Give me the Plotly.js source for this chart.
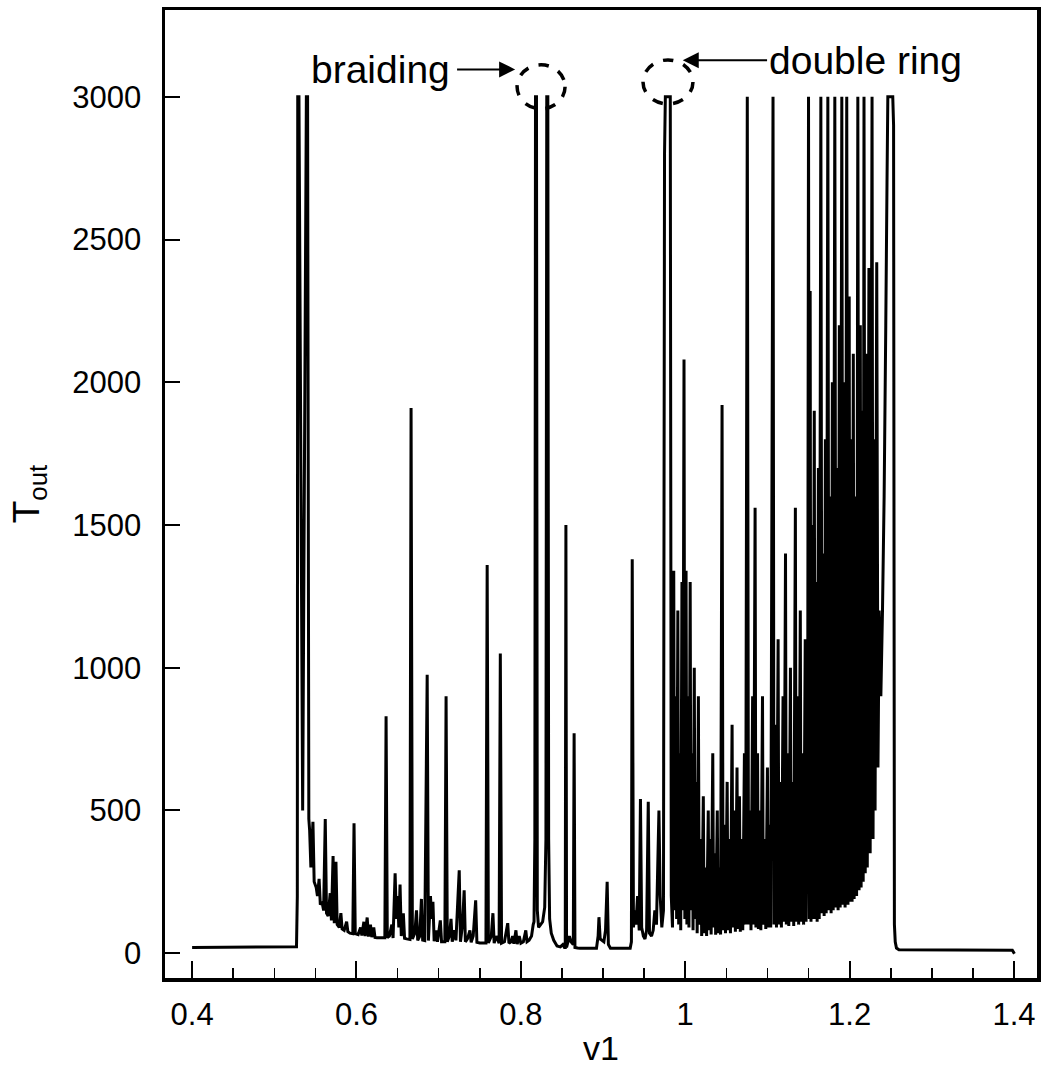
<!DOCTYPE html>
<html>
<head>
<meta charset="utf-8">
<script src="https://cdn.plot.ly/plotly-3.0.1.min.js"></script>
<style>html,body{margin:0;padding:0;background:#fff;}#chart{width:1043px;height:1079px;}</style>
</head>
<body>
<div id="chart"></div>
<script>
// ---- data (v1 vs T_out) ----
const v1Onset   = [0.400, 0.5270, 0.5280, 0.5285, 0.5300, 0.5345, 0.5390, 0.5405, 0.5420];
const toutOnset = [20, 22, 200, 3000, 3000, 500, 3000, 3000, 470];

const v1Low = [0.5430,0.5445,0.5470,0.5485,0.5510,0.5525,0.5545,0.5560,0.5580,0.5600,
0.5620,0.5635,0.5655,0.5680,0.5695,0.5715,0.5730,0.5750,0.5765,0.5790,
0.5810,0.5825,0.5850,0.5880,0.5895,0.5920,0.5955,0.5970,0.5985,0.6020,
0.6050,0.6065,0.6090,0.6105,0.6130,0.6145,0.6170,0.6185,0.6210,0.6225,
0.6250,0.6300,0.6345,0.6360,0.6375,0.6400,0.6430,0.6445,0.6470,0.6485,
0.6500,0.6515,0.6530,0.6545,0.6570,0.6585,0.6610,0.6650,0.6664,0.6680,
0.6710,0.6730,0.6745,0.6770,0.6790,0.6805,0.6830,0.6860,0.6875,0.6900,
0.6915,0.6930,0.6945,0.6970,0.6985,0.7020,0.7035,0.7075,0.7090,0.7105,
0.7130,0.7150,0.7165,0.7190,0.7210,0.7250,0.7265,0.7290,0.7310,0.7325,
0.7350,0.7380,0.7395,0.7420,0.7450,0.7465,0.7500,0.7575,0.7590,0.7605,
0.7640,0.7660,0.7675,0.7700,0.7735,0.7750,0.7765,0.7800,0.7840,0.7855,
0.7880,0.7900,0.7915,0.7940,0.7955,0.7980,0.8000,0.8030,0.8060,0.8075,
0.8100,0.8130,0.8150];
const toutLow = [430,300,460,250,230,200,260,170,180,150,
470,140,130,210,115,340,105,320,100,90,
140,85,80,110,75,70,68,455,68,65,
90,62,110,60,125,58,100,56,90,55,
54,54,54,830,55,60,100,53,280,120,
200,90,240,60,140,52,50,48,1910,50,
70,150,45,60,190,46,44,975,44,200,
120,180,42,80,40,115,40,40,900,40,
60,120,40,80,45,290,40,100,220,40,
50,80,38,60,185,38,36,36,1360,36,
60,140,35,60,35,1050,35,40,105,35,
40,60,33,80,32,60,35,40,80,40,
45,60,100];

const v1Braid = [0.8160,0.8170,0.8178,0.8190,0.8200,0.8215,0.8240,0.8265,0.8290,0.8305,
0.8315,0.8328,0.8338,0.8350,0.8370,0.8400,0.8440,0.8480,0.8510,0.8530,
0.8540,0.8548,0.8556,0.8590,0.8610,0.8638,0.8648,0.8658,0.8690,0.8720,
0.8920,0.8940,0.8950,0.8965,0.9010,0.9030,0.9050,0.9065,0.9090,0.9330];
const toutBraid = [110,400,3000,3000,150,90,100,110,160,400,
3000,3000,400,120,70,45,25,22,30,20,
20,1500,20,60,40,30,770,20,18,17,
17,60,126,50,40,80,250,30,17,17];

const v1Mid = [0.9345,0.9355,0.9370,0.9390,0.9400,0.9420,0.9440,0.9455,0.9470,0.9490,
0.9510,0.9530,0.9550,0.9565,0.9590,0.9610,0.9630,0.9650,0.9680,0.9695,
0.9715,0.9735,0.9748,0.9758,0.9818,0.9830];
const toutMid = [40,1380,90,150,100,200,80,540,90,60,
50,80,530,70,60,80,150,100,500,200,
90,150,2800,3000,3000,200];

const v1Dense = [0.9845,0.9860,0.9870,0.9885,0.9895,0.9910,0.9920,0.9935,0.9945,0.9960,
0.9970,0.9985,0.9995,1.0010,1.0020,1.0035,1.0045,1.0060,1.0070,1.0085,
1.0095,1.0110,1.0120,1.0135,1.0145,1.0160,1.0170,1.0190,1.0200,1.0220,
1.0230,1.0250,1.0260,1.0280,1.0290,1.0305,1.0315,1.0335,1.0345,1.0360,
1.0370,1.0390,1.0400,1.0420,1.0430,1.0448,1.0460,1.0480,1.0490,1.0510,
1.0520,1.0540,1.0550,1.0570,1.0580,1.0600,1.0610,1.0630,1.0640,1.0660,
1.0670,1.0690,1.0700,1.0720,1.0735,1.0755,1.0770,1.0790,1.0800,1.0820,
1.0830,1.0850,1.0860,1.0880,1.0890,1.0910,1.0920,1.0940,1.0950,1.0970,
1.0980,1.1000,1.1010,1.1030,1.1040,1.1068,1.1080,1.1100,1.1110,1.1130,
1.1140,1.1160,1.1170,1.1190,1.1200,1.1220,1.1230,1.1250,1.1260,1.1280,
1.1290,1.1310,1.1320,1.1340,1.1350,1.1370,1.1380,1.1400,1.1410,1.1430,
1.1440,1.1460,1.1470,1.1490,1.1500,1.1510,1.1520,1.1530,1.1545,1.1555,
1.1570,1.1580,1.1595,1.1605,1.1620,1.1630,1.1650,1.1665,1.1680,1.1690,
1.1705,1.1715,1.1735,1.1750,1.1765,1.1775,1.1790,1.1800,1.1820,1.1835,
1.1850,1.1860,1.1875,1.1885,1.1905,1.1920,1.1935,1.1945,1.1965,1.1980,
1.1995,1.2005,1.2020,1.2030,1.2045,1.2055,1.2075,1.2085,1.2100,1.2115,
1.2130,1.2140,1.2155,1.2165,1.2175,1.2190,1.2205,1.2215,1.2235,1.2250,
1.2273,1.2285,1.2300,1.2310,1.2330,1.2345,1.2360,1.2380,1.2400,1.2420,
1.2440,1.2455,1.2465,1.2475,1.2525,1.2535,1.2545];
const toutDense = [90,1340,150,900,120,1200,100,700,80,1300,
150,2080,120,1340,100,900,90,1300,150,700,
80,1000,120,600,70,900,100,400,60,550,
70,300,60,500,80,400,65,700,90,350,
65,500,70,300,65,1920,80,450,70,600,
80,400,70,800,90,500,75,650,85,550,
75,400,80,700,100,3000,100,500,80,900,
100,1560,90,700,85,500,80,900,100,400,
85,650,90,450,90,3000,100,800,90,1100,
100,600,90,900,110,1400,100,700,95,1000,
110,600,95,1560,110,900,100,1200,110,700,
100,1100,110,800,3000,120,2320,110,1500,120,
1900,120,1300,110,1700,120,3000,140,1400,130,
1800,140,3000,150,1600,140,2000,150,3000,160,
1700,150,2200,160,3000,170,2000,160,3000,170,
2300,180,1800,180,2100,190,1600,200,3000,220,
2200,230,1900,250,3000,280,2100,300,2400,350,
3000,400,1800,500,2420,650,1200,900,1200,1600,
2200,2700,3000,3000,3000,2900,100];

const v1Tail   = [1.2555, 1.2570, 1.2600, 1.3980, 1.3995, 1.4005];
const toutTail = [40, 18, 12, 10, 3, -2];

const xTicks = [0.4, 0.6, 0.8, 1.0, 1.2, 1.4];
const xTickText = ['0.4', '0.6', '0.8', '1', '1.2', '1.4'];
const yTicks = [0, 500, 1000, 1500, 2000, 2500, 3000];

// ---- build ----
const v1 = [].concat(v1Onset, v1Low, v1Braid, v1Mid, v1Dense, v1Tail);
const tout = [].concat(toutOnset, toutLow, toutBraid, toutMid, toutDense, toutTail);

const FONT = 'Liberation Sans, Arial, Helvetica, sans-serif';

const trace = {
  x: v1, y: tout, type: 'scatter', mode: 'lines',
  line: {color: '#000', width: 3, simplify: false},
  hoverinfo: 'skip'
};

const layout = {
  width: 1043, height: 1079,
  margin: {l: 165, r: 6, t: 10, b: 101, pad: 0},
  paper_bgcolor: '#fff', plot_bgcolor: '#fff',
  showlegend: false,
  font: {family: FONT, color: '#000'},
  xaxis: {
    range: [0.367, 1.428],
    tickmode: 'array', tickvals: xTicks, ticktext: xTickText,
    ticks: 'inside', ticklen: 17, tickwidth: 2, tickcolor: '#000',
    minor: {tickmode: 'linear', tick0: 0.4, dtick: 0.05, ticks: 'inside', ticklen: 10, tickwidth: 1.6, tickcolor: '#000'},
    showline: true, linewidth: 3.5, linecolor: '#000', mirror: true,
    showgrid: false, zeroline: false,
    tickfont: {family: FONT, size: 31, color: '#000'},
    ticklabelstandoff: 6,
    title: {text: 'v1', font: {family: FONT, size: 34, color: '#000'}, standoff: 6}
  },
  yaxis: {
    range: [-87, 3304],
    tickmode: 'array', tickvals: yTicks,
    ticks: 'inside', ticklen: 15, tickwidth: 2, tickcolor: '#000',
    showline: true, linewidth: 3.5, linecolor: '#000', mirror: true,
    showgrid: false, zeroline: false,
    tickfont: {family: FONT, size: 31, color: '#000'},
    ticklabelstandoff: 14,
    title: {text: 'T<sub>out</sub>', font: {family: FONT, size: 37, color: '#000'}, standoff: 22}
  },
  shapes: [
    {type: 'circle', xref: 'x', yref: 'y', x0: 0.7954, x1: 0.8538, y0: 2958, y1: 3112,
     line: {color: '#000', width: 3.5, dash: 'dash'}},
    {type: 'circle', xref: 'x', yref: 'y', x0: 0.9486, x1: 1.0094, y0: 2975, y1: 3129,
     line: {color: '#000', width: 3.5, dash: 'dash'}}
  ],
  annotations: [
    {text: 'braiding', x: 0.793, y: 3096, xref: 'x', yref: 'y', axref: 'x', ayref: 'y',
     ax: 0.6287, ay: 3096, showarrow: true, arrowhead: 2, arrowsize: 1.6, arrowwidth: 2,
     arrowcolor: '#000', startstandoff: 6,
     font: {family: FONT, size: 39, color: '#000'}},
    {text: 'double ring', x: 0.997, y: 3128, xref: 'x', yref: 'y', axref: 'x', ayref: 'y',
     ax: 1.2188, ay: 3128, showarrow: true, arrowhead: 2, arrowsize: 1.6, arrowwidth: 2,
     arrowcolor: '#000', startstandoff: 0,
     font: {family: FONT, size: 39, color: '#000'}}
  ]
};

Plotly.newPlot('chart', [trace], layout, {displayModeBar: false, staticPlot: true});
</script>
</body>
</html>
